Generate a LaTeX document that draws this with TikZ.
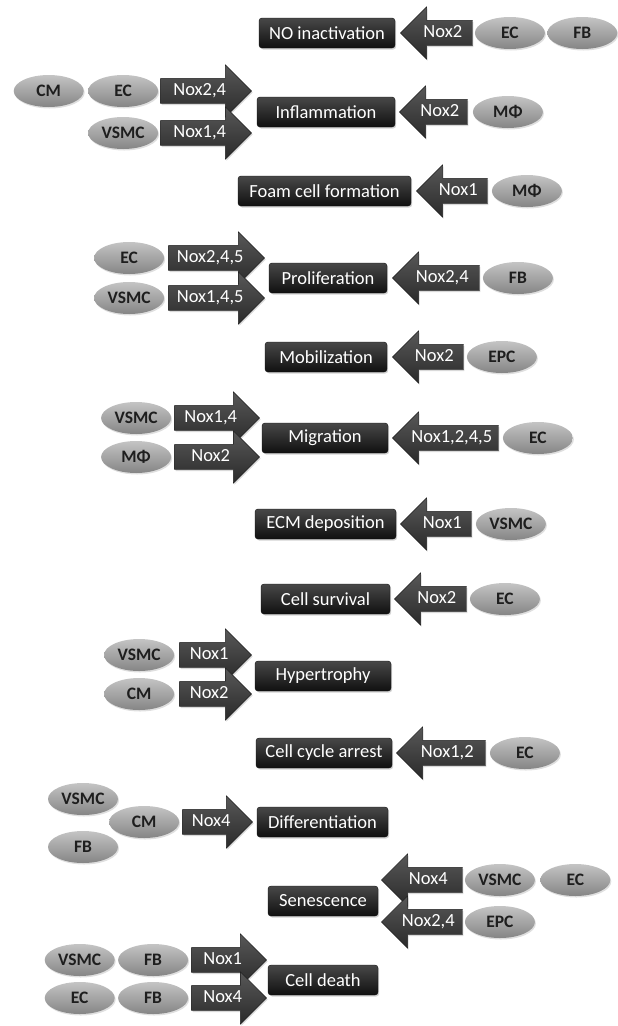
\documentclass[tikz,border=0pt]{standalone}
\usepackage{fontspec}
\setmainfont{Carlito}
\usepackage{tikz}
\usetikzlibrary{shapes.geometric, shapes.arrows, positioning, shadows}
\definecolor{boxtop}{HTML}{484848}
\definecolor{boxbot}{HTML}{101010}
\definecolor{noxtop}{HTML}{585858}
\definecolor{noxbot}{HTML}{2A2A2A}
\definecolor{noxline}{HTML}{222222}
\definecolor{celltop}{HTML}{C4C4C4}
\definecolor{cellbot}{HTML}{858585}
\definecolor{celltext}{HTML}{1E1E1E}
\tikzset{
    effect/.style={rectangle, minimum height=30pt, text centered, text=white, top color=boxtop, bottom color=boxbot, draw=boxbot, rounded corners=3pt, drop shadow={opacity=0.35, shadow xshift=1.2pt, shadow yshift=-1.5pt}},
    cell/.style={ellipse, minimum width=70pt, minimum height=32pt, inner sep=0pt, top color=celltop, bottom color=cellbot, text=celltext, font=\fontsize{17.5}{20}\selectfont\bfseries, drop shadow={opacity=0.25, shadow xshift=1pt, shadow yshift=-1.5pt}},
    nox/.style={single arrow, single arrow head extend=13.5pt, text height=12.5pt, text depth=3.5pt, inner ysep=4.5pt, inner xsep=0pt, text=white, top color=noxtop, bottom color=noxbot, draw=noxline, drop shadow={opacity=0.3, shadow xshift=1pt, shadow yshift=-1.5pt}},
    noxright/.style={nox},
    noxleft/.style={nox, shape border rotate=180}
}
\begin{document}
\begin{tikzpicture}[x=1pt, y=-1pt, every node/.style={font=\fontsize{18.5}{21}\selectfont}]
    \useasboundingbox (0,0) rectangle (618,1026);

    % effects, top to bottom
    \node (noinact) [effect, minimum width=136pt] at (327,33) {NO inactivation};
    \node (inflam) [effect, minimum width=138pt] at (326,112) {Inflammation};
    \node (foam) [effect, minimum width=173pt] at (324.5,191) {Foam cell formation};
    \node (prolif) [effect, minimum width=118pt] at (328,278) {Proliferation};
    \node (mobil) [effect, minimum width=122pt] at (326,357) {Mobilization};
    \node (migr) [effect, minimum width=126pt] at (325,438) {Migration};
    \node (ecm) [effect, minimum width=141pt] at (325.5,524) {ECM deposition};
    \node (surv) [effect, minimum width=129pt] at (325.5,599) {Cell survival};
    \node (hyper) [effect, minimum width=136pt] at (323,676) {Hypertrophy};
    \node (arrest) [effect, minimum width=136pt] at (324,753) {Cell cycle arrest};
    \node (diff) [effect, minimum width=131pt] at (322.5,822) {Differentiation};
    \node (senes) [effect, minimum width=110pt] at (323,901) {Senescence};
    \node (death) [effect, minimum width=110pt] at (323,980) {Cell death};

    % NO inactivation
    \node (n1) [noxleft, minimum height=72pt, right=5pt of noinact] {Nox2};
    \node (ec1) [cell, right=2pt of n1] {EC};
    \node (fb1) [cell, right=2pt of ec1] {FB};

    % Inflammation
    \node (n2) [noxleft, minimum height=68pt, right=4pt of inflam] {Nox2};
    \node (mf2) [cell, right=5pt of n2] {MΦ};
    \node (n2a) [noxright, minimum height=91pt, left=5pt of inflam, yshift=21pt] {Nox2,4};
    \node (n2b) [noxright, minimum height=91pt, left=5pt of inflam, yshift=-21pt] {Nox1,4};
    \node (ec2) [cell, left=2pt of n2a] {EC};
    \node (cm2) [cell, left=4pt of ec2] {CM};
    \node (vsmc2) [cell, left=2pt of n2b] {VSMC};

    % Foam cell formation
    \node (n3) [noxleft, minimum height=71pt, right=5pt of foam] {Nox1};
    \node (mf3) [cell, right=4pt of n3] {MΦ};

    % Proliferation
    \node (n4) [noxleft, minimum height=87pt, right=5pt of prolif] {Nox2,4};
    \node (fb4) [cell, right=3pt of n4] {FB};
    \node (n4a) [noxright, minimum height=96pt, left=4pt of prolif, yshift=20pt] {Nox2,4,5};
    \node (n4b) [noxright, minimum height=96pt, left=4pt of prolif, yshift=-20pt] {Nox1,4,5};
    \node (ec4) [cell, left=4pt of n4a] {EC};
    \node (vsmc4) [cell, left=4pt of n4b] {VSMC};

    % Mobilization
    \node (n5) [noxleft, minimum height=71pt, right=5pt of mobil] {Nox2};
    \node (epc5) [cell, right=3pt of n5] {EPC};

    % Migration
    \node (n6) [noxleft, minimum height=106pt, right=4pt of migr] {Nox1,2,4,5};
    \node (ec6) [cell, right=4pt of n6] {EC};
    \node (n6a) [noxright, minimum height=85pt, left=2pt of migr, yshift=20pt] {Nox1,4};
    \node (n6b) [noxright, minimum height=85pt, left=2pt of migr, yshift=-19pt] {Nox2};
    \node (vsmc6) [cell, left=3pt of n6a] {VSMC};
    \node (mf6) [cell, left=3pt of n6b] {MΦ};

    % ECM deposition
    \node (n7) [noxleft, minimum height=71pt, right=4pt of ecm] {Nox1};
    \node (vsmc7) [cell, right=4pt of n7] {VSMC};

    % Cell survival
    \node (n8) [noxleft, minimum height=72pt, right=4pt of surv] {Nox2};
    \node (ec8) [cell, right=3pt of n8] {EC};

    % Hypertrophy
    \node (n9a) [noxright, minimum height=72pt, left=3pt of hyper, yshift=21pt] {Nox1};
    \node (n9b) [noxright, minimum height=72pt, left=3pt of hyper, yshift=-18pt] {Nox2};
    \node (vsmc9) [cell, left=5pt of n9a] {VSMC};
    \node (cm9) [cell, left=5pt of n9b] {CM};

    % Cell cycle arrest
    \node (n10) [noxleft, minimum height=89pt, right=4pt of arrest] {Nox1,2};
    \node (ec10) [cell, right=4pt of n10] {EC};

    % Differentiation
    \node (n11) [noxright, minimum height=70pt, left=4pt of diff] {Nox4};
    \node (cm11) [cell, left=3pt of n11] {CM};
    \node (vsmc11) [cell] at (83,799) {VSMC};
    \node (fb11) [cell] at (83,847) {FB};

    % Senescence
    \node (n12a) [noxleft, minimum height=81pt, right=3pt of senes, yshift=21pt] {Nox4};
    \node (n12b) [noxleft, minimum height=81pt, right=3pt of senes, yshift=-21pt] {Nox2,4};
    \node (vsmc12) [cell, right=2pt of n12a] {VSMC};
    \node (ec12) [cell, right=5pt of vsmc12] {EC};
    \node (epc12) [cell, right=2pt of n12b] {EPC};

    % Cell death
    \node (n13a) [noxright, minimum height=75pt, left=1pt of death, yshift=20pt] {Nox1};
    \node (n13b) [noxright, minimum height=75pt, left=1pt of death, yshift=-18pt] {Nox4};
    \node (fb13a) [cell, left=3pt of n13a] {FB};
    \node (vsmc13) [cell, left=3pt of fb13a] {VSMC};
    \node (fb13b) [cell, left=3pt of n13b] {FB};
    \node (ec13) [cell, left=3pt of fb13b] {EC};
\end{tikzpicture}
\end{document}
